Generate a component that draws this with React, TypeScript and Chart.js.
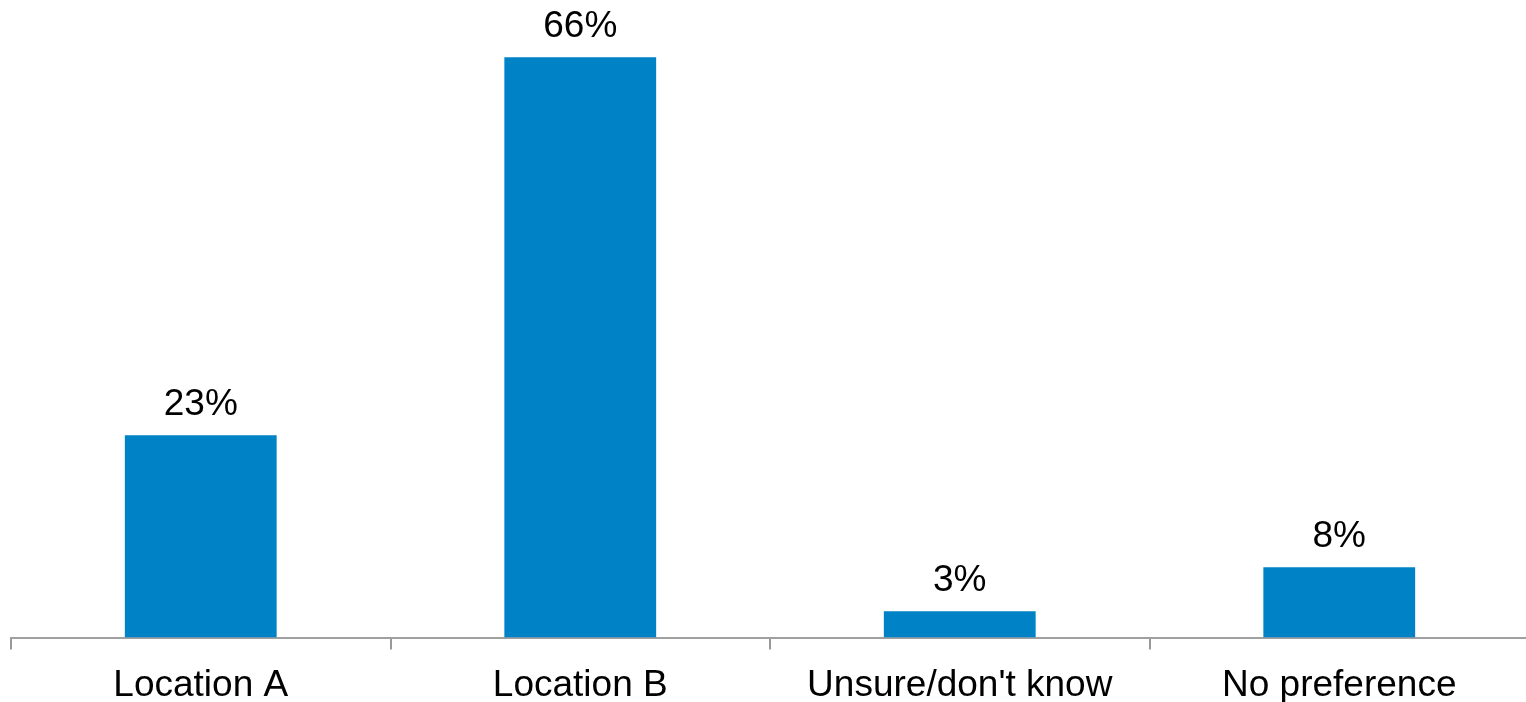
import React, { useEffect, useRef } from "react";
import { Chart, registerables } from "chart.js";

Chart.register(...registerables);

const categories = ["Location A", "Location B", "Unsure/don't know", "No preference"];
const values = [23, 66, 3, 8];
const valueLabels = ["23%", "66%", "3%", "8%"];

const FONT = "'Liberation Sans', Arial, Helvetica, sans-serif";

const dataLabelPlugin = {
  id: "dataLabels",
  afterDatasetsDraw(chart: any) {
    const ctx = chart.ctx;
    const meta = chart.getDatasetMeta(0);
    ctx.save();
    ctx.font = `37px ${FONT}`;
    ctx.fillStyle = "#000000";
    ctx.textAlign = "center";
    ctx.textBaseline = "alphabetic";
    meta.data.forEach((bar: any, i: number) => {
      ctx.fillText(valueLabels[i], bar.x, bar.y - 20);
    });
    ctx.restore();
  },
};

const W = 1530;
const H = 722;

export default function App() {
  const ref = useRef<HTMLCanvasElement | null>(null);
  useEffect(() => {
    document.body.style.margin = "0";
    document.body.style.overflow = "hidden";
    const chart = new Chart(ref.current as HTMLCanvasElement, {
      type: "bar",
      data: {
        labels: categories,
        datasets: [
          {
            data: values,
            backgroundColor: "#0083c6",
            categoryPercentage: 1,
            barPercentage: 0.4,
          },
        ],
      },
      options: {
        animation: false,
        responsive: false,
        maintainAspectRatio: false,
        layout: { padding: { left: 11, right: 1, top: 22, bottom: 0 } },
        plugins: { legend: { display: false }, tooltip: { enabled: false } },
        scales: {
          x: {
            grid: {
              display: true,
              drawOnChartArea: false,
              offset: true,
              tickLength: 12,
              lineWidth: 2,
              color: "#999999",
            },
            border: { display: true, color: "#a0a0a0", width: 2 },
            ticks: {
              color: "#000000",
              padding: 14,
              maxRotation: 0,
              font: { family: FONT, size: 37 },
            },
          },
          y: {
            display: false,
            min: 0,
            max: 70,
          },
        },
      },
      plugins: [dataLabelPlugin],
    });
    return () => chart.destroy();
  }, []);
  return (
    <div style={{ position: "absolute", left: 0, top: 0, width: W, height: H }}>
      <canvas ref={ref} width={W} height={H} style={{ width: W, height: H, display: "block" }} />
    </div>
  );
}
